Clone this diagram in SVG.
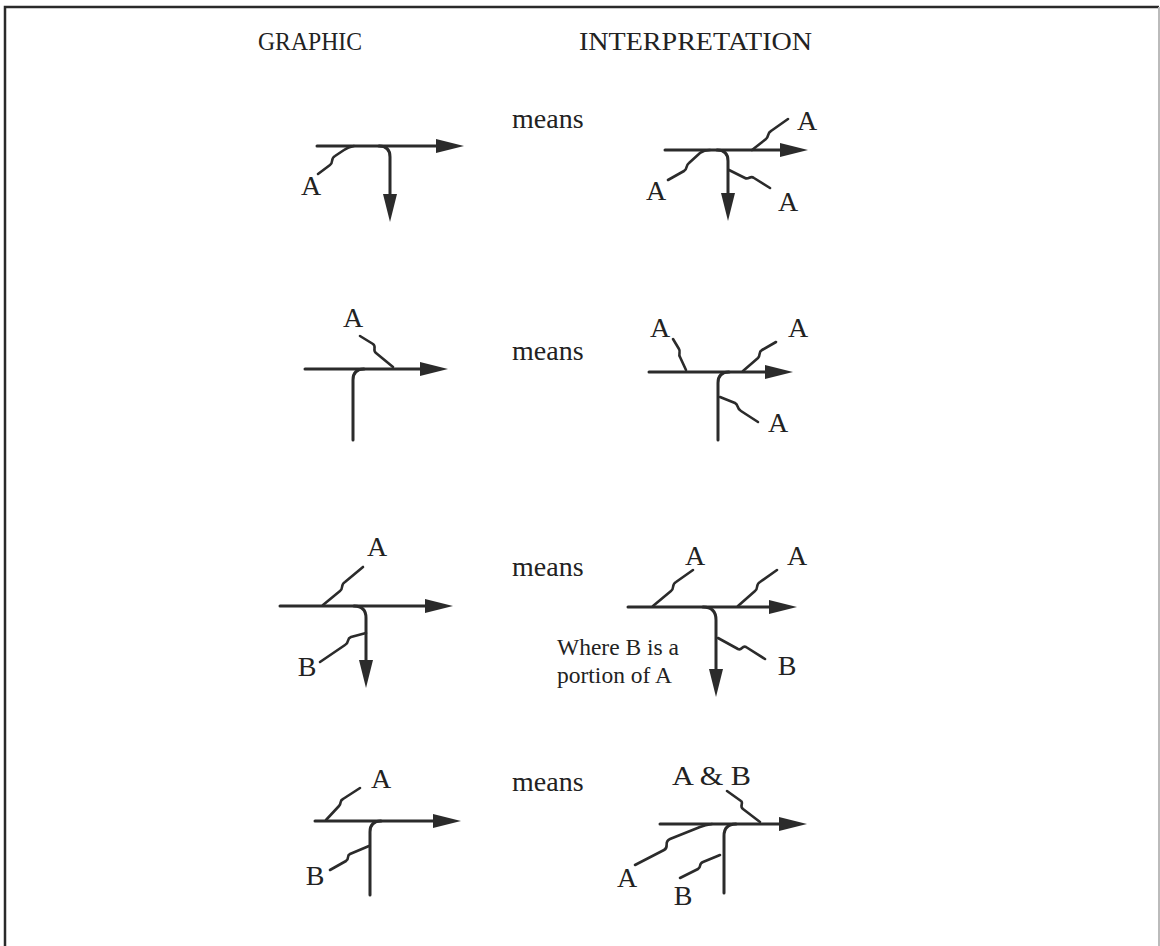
<svg xmlns="http://www.w3.org/2000/svg" width="1160" height="946" viewBox="0 0 1160 946">
<style>
.t{font-family:"Liberation Serif","Times New Roman",serif;fill:#222}
.h{font-size:26px}
.m{font-size:28px}
.l{font-size:28px}
.s{font-size:23.5px}
.ln{fill:none;stroke:#2b2b2b;stroke-width:3;stroke-linejoin:round;stroke-linecap:round}
.sq{fill:none;stroke:#2b2b2b;stroke-width:2.6;stroke-linejoin:round;stroke-linecap:round}
</style>
<defs>
<marker id="ah" markerUnits="userSpaceOnUse" markerWidth="30" markerHeight="16" refX="0" refY="7" orient="auto" viewBox="0 0 30 16">
<path d="M0,0 L28,7 L0,14 Z" fill="#2b2b2b"/>
</marker>
</defs>
<rect width="1160" height="946" fill="#fff"/>
<g id="frame">
<path d="M5,946 L5,7 L1159,7" fill="none" stroke="#2a2a2a" stroke-width="2.5"/>
<path d="M1159,7 L1159,946" fill="none" stroke="#bbb" stroke-width="2"/>
</g>
<g id="headers">
<text class="t h" x="258" y="50" textLength="104" lengthAdjust="spacingAndGlyphs">GRAPHIC</text>
<text class="t h" x="579" y="50" textLength="233" lengthAdjust="spacingAndGlyphs">INTERPRETATION</text>
</g>
<g id="means">
<text class="t m" x="512" y="128">means</text>
<text class="t m" x="512" y="360">means</text>
<text class="t m" x="512" y="576">means</text>
<text class="t m" x="512" y="791">means</text>
</g>
<g id="connectors">
<path class="ln" d="M317,146 L436,146" marker-end="url(#ah)"/>
<path class="ln" d="M379,146 Q390,146 390,157 L390,194" marker-end="url(#ah)"/>
<path class="ln" d="M665,150 L780,150" marker-end="url(#ah)"/>
<path class="ln" d="M717,150 Q728,150 728,161 L728,193" marker-end="url(#ah)"/>
<path class="ln" d="M305,369 L420,369" marker-end="url(#ah)"/>
<path class="ln" d="M364,369 Q353,369 353,380 L353,440"/>
<path class="ln" d="M649,372 L765,372" marker-end="url(#ah)"/>
<path class="ln" d="M729,372 Q718,372 718,383 L718,440"/>
<path class="ln" d="M280,606 L425,606" marker-end="url(#ah)"/>
<path class="ln" d="M354,606 Q366,606 366,618 L366,660" marker-end="url(#ah)"/>
<path class="ln" d="M628,607 L769,607" marker-end="url(#ah)"/>
<path class="ln" d="M703,607 Q716,607 716,620 L716,669" marker-end="url(#ah)"/>
<path class="ln" d="M315,821 L433,821" marker-end="url(#ah)"/>
<path class="ln" d="M381,821 Q370,821 370,832 L370,895"/>
<path class="ln" d="M660,824 L779,824" marker-end="url(#ah)"/>
<path class="ln" d="M736,824 Q724,824 724,836 L724,893"/>
</g>
<g id="squiggles">
<path class="sq" d="M318,174 L330,165 C334,162 330,159 335,156 L344,150 Q348,147 354,146"/>
<path class="sq" d="M752,150 L766,139 C769,137 767,133 771,131 L788,119"/>
<path class="sq" d="M668,180 L684,171 C688,169 685,166 689,163 L700,153 Q704,150 710,150"/>
<path class="sq" d="M729,170 L745,178 C749,180 750,175 754,178 L770,188"/>
<path class="sq" d="M360,336 L373,344 C377,347 372,350 376,353 L393,367"/>
<path class="sq" d="M673,339 L679,349 C681,352 678,354 680,357 L686,370"/>
<path class="sq" d="M743,371 L758,358 C761,355 758,352 762,350 L776,342"/>
<path class="sq" d="M720,397 L735,403 C739,405 736,408 741,411 L758,422"/>
<path class="sq" d="M323,605 L340,591 C344,588 340,585 345,582 L363,567"/>
<path class="sq" d="M366,633 L351,637 C346,639 350,642 345,645 L320,662"/>
<path class="sq" d="M653,606 L671,591 C675,588 671,585 676,582 L693,570"/>
<path class="sq" d="M738,606 L755,591 C759,588 755,585 760,582 L777,570"/>
<path class="sq" d="M718,638 L738,649 C742,651 742,645 746,647 L765,659"/>
<path class="sq" d="M326,820 L339,806 C342,803 339,801 343,799 L360,788"/>
<path class="sq" d="M369,846 L350,854 C346,856 350,858 346,861 L330,870"/>
<path class="sq" d="M727,791 L741,801 C744,803 739,806 743,809 L760,822"/>
<path class="sq" d="M635,865 L664,850 C670,847 663,842 670,839 L700,827 Q705,825 712,824"/>
<path class="sq" d="M680,878 L698,869 C702,867 698,864 703,862 L720,855"/>
</g>
<g id="row1-graphic">
<text class="t l" x="311" y="195" text-anchor="middle">A</text>
</g>
<g id="row1-interp">
<text class="t l" x="807" y="130" text-anchor="middle">A</text>
<text class="t l" x="656" y="200" text-anchor="middle">A</text>
<text class="t l" x="788" y="211" text-anchor="middle">A</text>
</g>
<g id="row2-graphic">
<text class="t l" x="353" y="327" text-anchor="middle">A</text>
</g>
<g id="row2-interp">
<text class="t l" x="660" y="337" text-anchor="middle">A</text>
<text class="t l" x="798" y="337" text-anchor="middle">A</text>
<text class="t l" x="778" y="432" text-anchor="middle">A</text>
</g>
<g id="row3-graphic">
<text class="t l" x="377" y="556" text-anchor="middle">A</text>
<text class="t l" x="307" y="676" text-anchor="middle">B</text>
</g>
<g id="row3-interp">
<text class="t l" x="695" y="565" text-anchor="middle">A</text>
<text class="t l" x="797" y="565" text-anchor="middle">A</text>
<text class="t l" x="787" y="675" text-anchor="middle">B</text>
<text class="t s" x="557" y="655">Where B is a</text>
<text class="t s" x="557" y="683">portion of A</text>
</g>
<g id="row4-graphic">
<text class="t l" x="381" y="788" text-anchor="middle">A</text>
<text class="t l" x="315" y="885" text-anchor="middle">B</text>
</g>
<g id="row4-interp">
<text class="t l" x="672" y="785" textLength="79" lengthAdjust="spacingAndGlyphs">A &amp; B</text>
<text class="t l" x="627" y="887" text-anchor="middle">A</text>
<text class="t l" x="683" y="905" text-anchor="middle">B</text>
</g>
</svg>
